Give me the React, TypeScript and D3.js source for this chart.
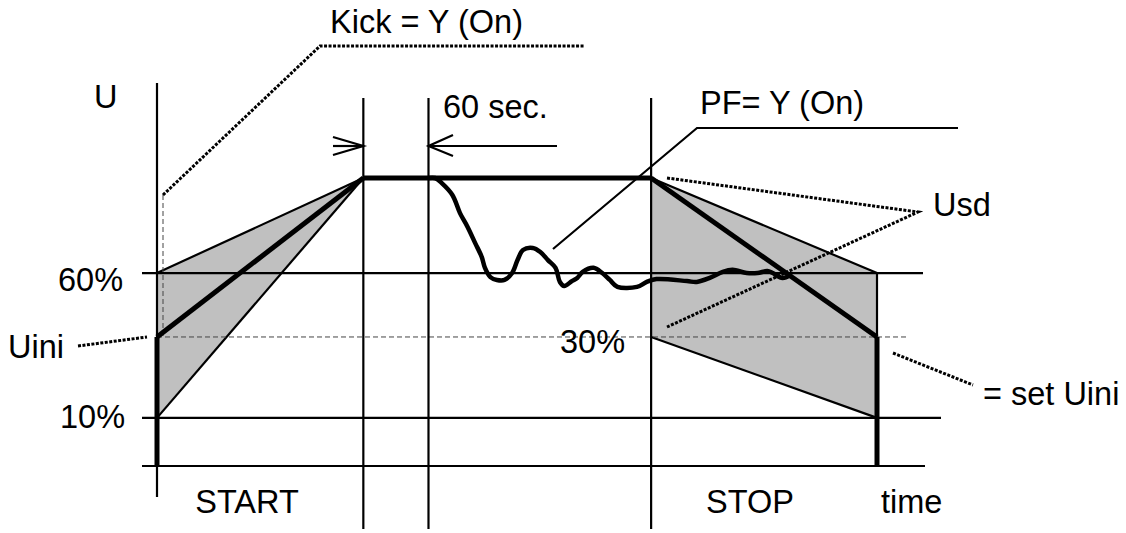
import * as d3 from "d3";

// time in seconds, U in % of full voltage (diagram units, not to scale)
const phaseTimes = [0, 190, 250, 455, 663]; // start, ramp end, +60 s, stop, end
const phaseLabels = ["START", "STOP"];

const levelNames = ["10%", "Uini", "60%"];
const levelValues = [16.7, 44.8, 67.0];
const fullU = 100;

// soft start band (kick on) and soft stop band (PF on)
const startBandUpper = [67.0, 100];
const startBandLower = [16.7, 100];
const startMain = [44.8, 100];
const stopBandUpper = [100, 67.0];
const stopBandLower = [44.8, 16.7];
const stopMain = [100, 44.8];

// pump-control wave after full voltage is reached
const waveTime = [
  250, 256, 262, 272, 279, 286, 293, 299, 302, 307, 313, 320, 327, 332, 337,
  346, 353, 360, 367, 371, 375, 382, 387, 392, 402, 410, 417, 424, 442, 451,
  460, 488, 497, 509, 521, 530, 543, 553, 562, 567, 576, 583,
];
const waveU = [
  100, 100, 98.3, 94.1, 87.8, 83.0, 77.4, 72.6, 68.8, 65.6, 64.6, 64.6, 67.0,
  71.5, 75.0, 75.7, 74.3, 71.5, 68.8, 63.9, 62.5, 64.2, 65.3, 67.4, 68.8, 67.0,
  64.6, 62.2, 62.2, 63.9, 64.9, 64.2, 63.9, 65.3, 67.4, 68.1, 67.0, 67.0, 67.7,
  67.0, 65.3, 66.3,
];

const W = 1126;
const H = 533;
const FONT = "'Liberation Sans', Arial, sans-serif";

export default function App() {
  const x = d3.scaleLinear().domain([0, 663]).range([157, 877]);
  const y = d3.scaleLinear().domain([0, 100]).range([466, 178]);

  const [t0, tRamp, tHold, tStop, tEnd] = phaseTimes;
  const [u10, uIni, u60] = levelValues;

  const poly = (pts: [number, number][]) =>
    pts.map(([t, u]) => `${x(t)},${y(u)}`).join(" ");

  const wave = d3
    .line<number>()
    .x((_, i) => x(waveTime[i]))
    .y((d) => y(d))
    .curve(d3.curveCatmullRom)(waveU);

  const gridTop = 98;
  const gridBottom = 529;
  const thin = 2.2;
  const thick = 5;
  const dotted = { stroke: "#000", strokeWidth: 3, strokeDasharray: "3,1.5", fill: "none" };
  const txt = { fontFamily: FONT, fontSize: 32.5, fill: "#000" };

  return (
    <svg
      width={W}
      height={H}
      viewBox={`0 0 ${W} ${H}`}
      style={{ position: "absolute", left: 0, top: 0, background: "#fff" }}
    >
      {/* shaded bands */}
      <polygon
        points={poly([
          [t0, startBandUpper[0]],
          [tRamp, startBandUpper[1]],
          [t0, startBandLower[0]],
        ])}
        fill="#c0c0c0"
      />
      <polygon
        points={poly([
          [tStop, stopBandUpper[0]],
          [tEnd, stopBandUpper[1]],
          [tEnd, stopBandLower[1]],
          [tStop, stopBandLower[0]],
        ])}
        fill="#c0c0c0"
      />

      {/* band edges */}
      <g stroke="#000" strokeWidth={thin} fill="none">
        <line x1={x(t0)} y1={y(startBandUpper[0])} x2={x(tRamp)} y2={y(startBandUpper[1])} />
        <line x1={x(t0)} y1={y(startBandLower[0])} x2={x(tRamp)} y2={y(startBandLower[1])} />
        <line x1={x(tStop)} y1={y(stopBandUpper[0])} x2={x(tEnd)} y2={y(stopBandUpper[1])} />
        <line x1={x(tStop)} y1={y(stopBandLower[0])} x2={x(tEnd)} y2={y(stopBandLower[1])} />
        <line x1={x(tEnd)} y1={y(stopBandUpper[1])} x2={x(tEnd)} y2={y(uIni)} />
      </g>

      {/* Uini reference (dashed) */}
      <line x1={x(t0)} y1={y(uIni)} x2={907} y2={y(uIni)} stroke="#444" strokeWidth={1} strokeDasharray="5,3" />
      <line x1={163} y1={195} x2={163} y2={y(uIni)} stroke="#444" strokeWidth={1} strokeDasharray="5,3" />

      {/* level lines */}
      <g stroke="#000" strokeWidth={thin}>
        <line x1={142} y1={y(u60)} x2={923} y2={y(u60)} />
        <line x1={142} y1={y(u10)} x2={941} y2={y(u10)} />
        <line x1={142} y1={y(0)} x2={925} y2={y(0)} />
      </g>

      {/* time markers */}
      <g stroke="#000" strokeWidth={thin}>
        <line x1={x(t0)} y1={83} x2={x(t0)} y2={497} />
        <line x1={x(tRamp)} y1={gridTop} x2={x(tRamp)} y2={gridBottom} />
        <line x1={x(tHold)} y1={gridTop} x2={x(tHold)} y2={gridBottom} />
        <line x1={x(tStop)} y1={gridTop} x2={x(tStop)} y2={gridBottom} />
      </g>

      {/* 60 sec dimension arrows */}
      <g stroke="#000" strokeWidth={thin} fill="none">
        <line x1={333} y1={146} x2={x(tRamp)} y2={146} />
        <polyline points={`333,137 ${x(tRamp)},146 333,155`} />
        <line x1={x(tHold)} y1={146} x2={557} y2={146} />
        <polyline points={`453,135 ${x(tHold)},146 453,156`} />
      </g>

      {/* main voltage curve */}
      <g stroke="#000" strokeWidth={thick} fill="none" strokeLinejoin="round">
        <line x1={x(t0)} y1={y(0)} x2={x(t0)} y2={y(startMain[0])} />
        <line x1={x(t0)} y1={y(startMain[0])} x2={x(tRamp)} y2={y(startMain[1])} />
        <line x1={x(tRamp)} y1={y(fullU)} x2={x(tStop)} y2={y(fullU)} />
        <line x1={x(tStop)} y1={y(stopMain[0])} x2={x(tEnd)} y2={y(stopMain[1])} />
        <line x1={x(tEnd)} y1={y(stopMain[1])} x2={x(tEnd)} y2={y(0)} />
      </g>
      <path d={wave ?? ""} stroke="#000" strokeWidth={4.5} fill="none" strokeLinejoin="round" strokeLinecap="round" />

      {/* leaders */}
      <polyline points="163,195 320,46 585,46" {...dotted} />
      <line x1={78} y1={346} x2={147} y2={337} {...dotted} />
      <polyline points="667,178 918,212 667,327" {...dotted} />
      <line x1={893} y1={353} x2={973} y2={385} {...dotted} />
      <polyline points="553,249 697,128 958,128" stroke="#000" strokeWidth={thin} fill="none" />

      {/* labels */}
      <text x={330} y={33} {...txt}>Kick = Y (On)</text>
      <text x={443} y={118} {...txt}>60 sec.</text>
      <text x={94} y={108} {...txt}>U</text>
      <text x={700} y={114} {...txt}>PF= Y (On)</text>
      <text x={933} y={216} {...txt}>Usd</text>
      <text x={58} y={291} {...txt}>{levelNames[2]}</text>
      <text x={8} y={358} {...txt}>{levelNames[1]}</text>
      <text x={60} y={428} {...txt}>{levelNames[0]}</text>
      <text x={560} y={353} {...txt}>30%</text>
      <text x={983} y={405} {...txt}>= set Uini</text>
      <text x={247} y={513} textAnchor="middle" {...txt}>{phaseLabels[0]}</text>
      <text x={750} y={513} textAnchor="middle" {...txt}>{phaseLabels[1]}</text>
      <text x={881} y={513} {...txt}>time</text>
    </svg>
  );
}
